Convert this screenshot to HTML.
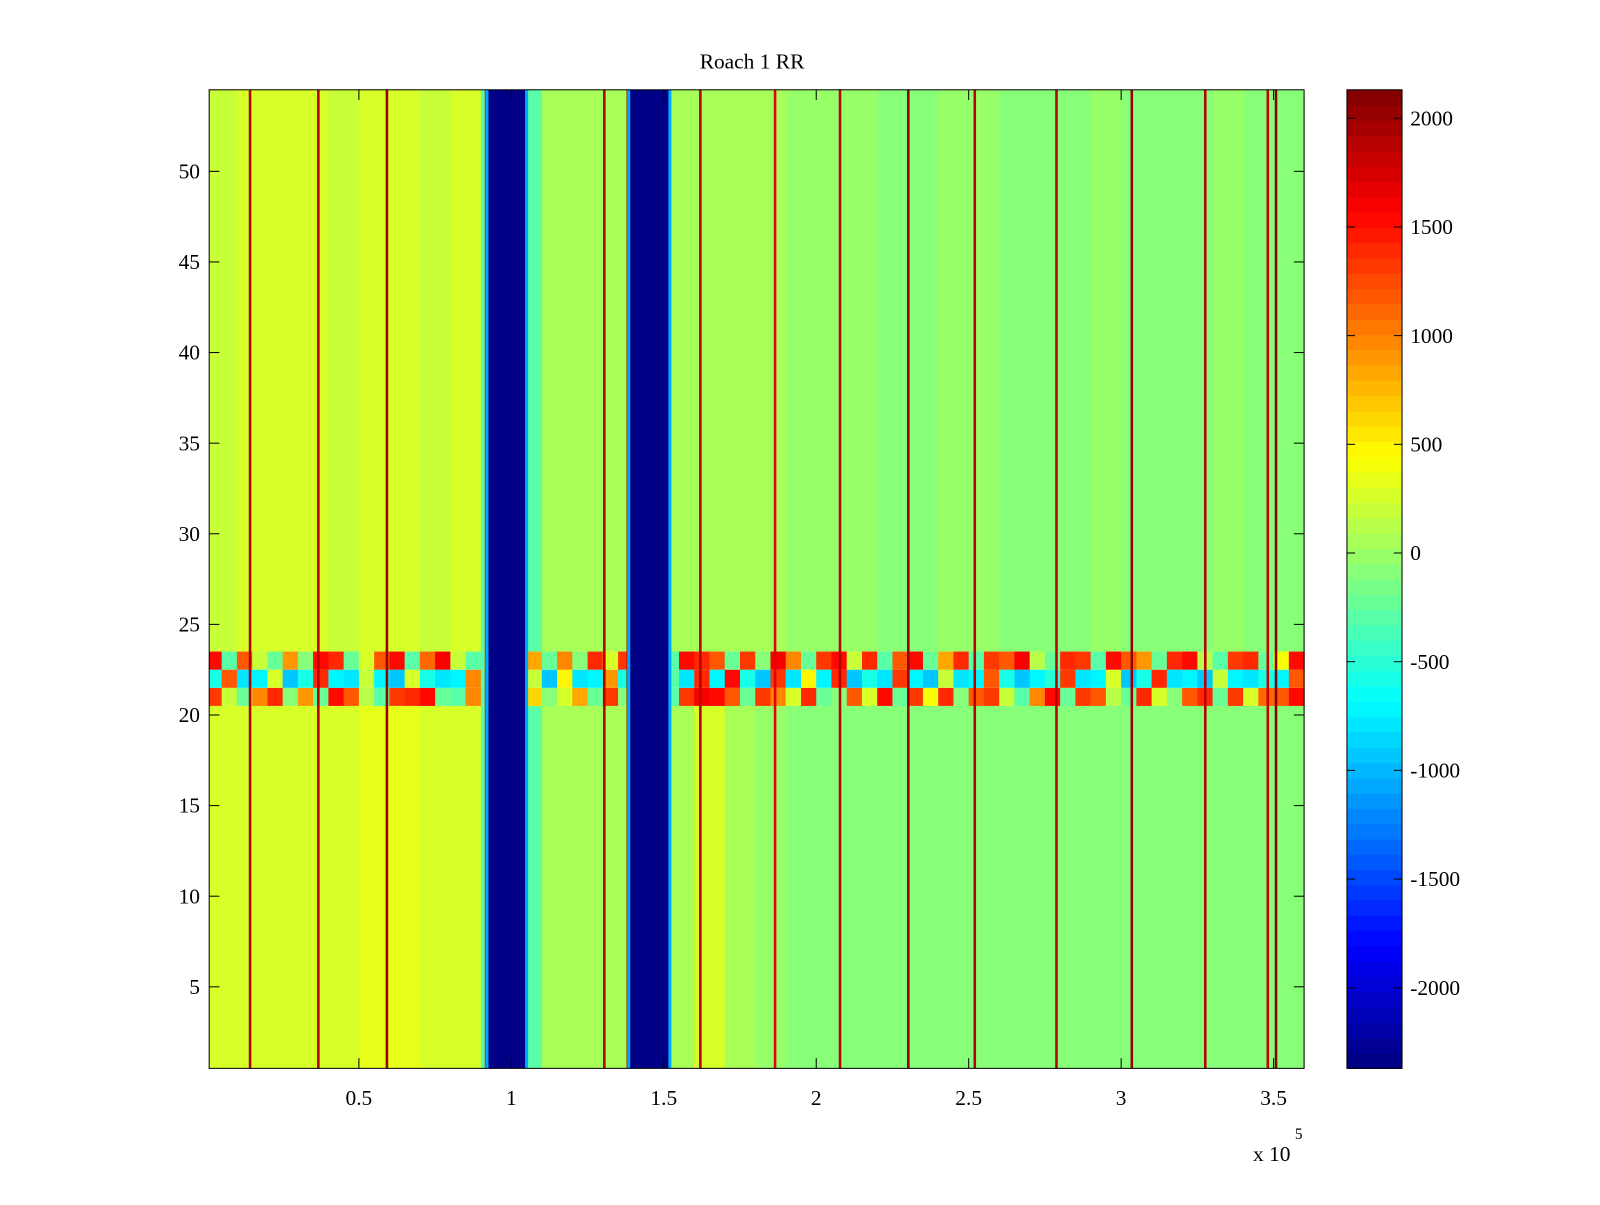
<!DOCTYPE html>
<html><head><meta charset="utf-8"><style>
html,body{margin:0;padding:0;background:#fff;}
svg text{font-family:"Liberation Serif",serif;font-size:21px;fill:#000;}
</style></head><body>
<svg id="chart" width="1600" height="1200" xmlns="http://www.w3.org/2000/svg">
<rect width="1600" height="1200" fill="#fff"/>
<g transform="scale(1.0204)">
<text x="737" y="67" text-anchor="middle">Roach 1 RR</text>
<g id="plot"></g>
<g id="cbar"></g>
<text x="1228" y="1138">x 10</text>
<text x="1269" y="1116" style="font-size:15px">5</text>
</g>
</svg>
<script>
// data (x in units of 1e5)
const xTicks=[0.5,1,1.5,2,2.5,3,3.5];
const xTickLabels=["0.5","1","1.5","2","2.5","3","3.5"];
const yTicks=[5,10,15,20,25,30,35,40,45,50];
const cTicks=[2000,1500,1000,500,0,-500,-1000,-1500,-2000];
// background mean per 0.1e5 bin (36 bins), rows 24-54 and rows 1-20
const bgUpper=[200,250,250,250,220,250,250,230,250,-300,-300,50,60,50,40,30,80,60,50,0,-30,-40,-80,-60,-40,-30,-60,-80,-50,-40,-70,-60,-50,-40,-50,-60];
const bgLower=[250,300,300,280,300,320,330,300,300,-300,-300,60,60,40,20,30,300,50,-20,-60,-80,-70,-100,-80,-70,-90,-100,-80,-60,-80,-100,-70,-60,-60,-80,-60];
// band rows 21-23, per 0.05e5 bin (72 bins)
const row23=[1500,-300,1200,200,-200,900,-100,1500,1400,-200,300,1200,1500,-300,1100,1600,200,-300,-300,-300,-300,800,-200,1000,-100,1400,300,1300,-300,-300,-300,1500,1400,1200,-200,1300,-100,1600,1000,-200,1300,1500,200,1400,-300,1200,1500,-200,800,1400,-300,1300,1200,1600,100,-200,1400,1300,-300,1500,1200,900,-200,1400,1500,100,-300,1300,1400,-200,400,1500];
const row22=[-600,1200,-800,-700,300,-900,-600,1400,-700,-800,200,-700,-900,300,-600,-800,-700,1000,-300,-300,-700,200,-900,500,-800,-700,900,-600,-300,-300,-300,-800,1400,-700,1500,-600,-900,1300,-800,500,-700,1400,-900,-600,-800,1300,-700,-900,200,-800,-700,1200,-600,-900,-700,-500,1300,-800,-700,300,-900,-600,1400,-800,-700,-900,200,-700,-800,-600,-700,1200];
const row21=[1300,200,-200,1000,1400,-100,900,-200,1500,1200,100,-300,1300,1400,1500,-200,-300,1000,-300,-300,-200,600,-100,300,800,-200,1300,-100,-300,-300,-300,1300,1600,1500,1200,-200,1300,1000,300,1400,-200,-100,1200,300,1500,-200,1300,400,1400,-100,1200,1300,200,-300,1000,1500,-200,1300,1200,100,-200,1400,300,-100,1200,1400,-200,1300,300,1100,1200,1500];
const blueBands=[[0.925,1.045],[1.39,1.515]];
const redLines=[0.143,0.367,0.592,0.917,1.305,1.382,1.62,1.865,2.078,2.302,2.52,2.788,3.035,3.276,3.481,3.508];
const redVals=[1900,1900,2000,1700,1900,2000,1900,1700,1900,2000,1900,1900,2000,1900,1800,2100];

const NS="http://www.w3.org/2000/svg";
const X0=205,X1=1278,Y0=88,Y1=1047,XMIN=0.009,XMAX=3.6,YMIN=0.5,YMAX=54.5;
const CMIN=-2371,CMAX=2131;
const sx=v=>X0+(v-XMIN)/(XMAX-XMIN)*(X1-X0);
const sy=v=>Y1-(v-YMIN)/(YMAX-YMIN)*(Y1-Y0);
function jet(v){let t=(v-CMIN)/(CMAX-CMIN);t=Math.max(0,Math.min(1,t));t=(Math.floor(t*63.999)+0.5)/64;
const c=x=>Math.round(255*Math.max(0,Math.min(1,x)));
return `rgb(${c(1.5-Math.abs(4*t-3))},${c(1.5-Math.abs(4*t-2))},${c(1.5-Math.abs(4*t-1))})`;}
function mk(tag,attrs,parent){const e=document.createElementNS(NS,tag);for(const k in attrs)e.setAttribute(k,attrs[k]);parent.appendChild(e);return e;}
const plot=document.getElementById('plot');
function drawRows(arr,step,yA,yB,name){arr.forEach((v,i)=>{const xa=Math.max(XMIN,i*step),xb=Math.min(XMAX,(i+1)*step);
const r=mk('rect',{x:sx(xa),y:sy(yB),width:sx(xb)-sx(xa)+0.6,height:sy(yA)-sy(yB),fill:jet(v)},plot);

});}
drawRows(bgUpper,0.1,23.5,54.5,'heat-cell-upper');
drawRows(bgLower,0.1,0.5,20.5,'heat-cell-lower');
drawRows(row21,0.05,20.5,21.5,'heat-cell-row21');
drawRows(row22,0.05,21.5,22.5,'heat-cell-row22');
drawRows(row23,0.05,22.5,23.5,'heat-cell-row23');
redLines.forEach((x,i)=>{const r=mk('rect',{x:sx(x)-1.25,y:Y0,width:2.5,height:Y1-Y0,fill:jet(redVals[i])},plot);

});
blueBands.forEach(b=>{const e1=mk('rect',{x:sx(b[0])-3,y:Y0,width:sx(b[1])-sx(b[0])+6,height:Y1-Y0,fill:jet(-1100)},plot);


const r=mk('rect',{x:sx(b[0]),y:Y0,width:sx(b[1])-sx(b[0]),height:Y1-Y0,fill:jet(CMIN)},plot);

});
const fr=mk('rect',{x:X0,y:Y0,width:X1-X0,height:Y1-Y0,fill:'none',stroke:'#000','stroke-width':1},plot);


xTicks.forEach((v,i)=>{const x=sx(v);
mk('line',{x1:x,x2:x,y1:Y1,y2:Y1-10,stroke:'#000'},plot);mk('line',{x1:x,x2:x,y1:Y0,y2:Y0+10,stroke:'#000'},plot);
const t=mk('text',{x:x,y:Y1+36,'text-anchor':'middle'},plot);t.textContent=xTickLabels[i];

});
yTicks.forEach(v=>{const y=sy(v);
mk('line',{x1:X0,x2:X0+10,y1:y,y2:y,stroke:'#000'},plot);mk('line',{x1:X1,x2:X1-10,y1:y,y2:y,stroke:'#000'},plot);
const t=mk('text',{x:X0-9,y:y+7,'text-anchor':'end'},plot);t.textContent=v;

});
const cb=document.getElementById('cbar');const CX0=1320,CX1=1374;
const cy=v=>Y1-(v-CMIN)/(CMAX-CMIN)*(Y1-Y0);
for(let i=0;i<64;i++){const va=CMIN+i*(CMAX-CMIN)/64,vb=CMIN+(i+1)*(CMAX-CMIN)/64;
const r=mk('rect',{x:CX0,y:cy(vb),width:CX1-CX0,height:cy(va)-cy(vb)+0.5,fill:jet((va+vb)/2)},cb);

}
mk('rect',{x:CX0,y:Y0,width:CX1-CX0,height:Y1-Y0,fill:'none',stroke:'#000'},cb);
cTicks.forEach(v=>{const y=cy(v);
mk('line',{x1:CX0,x2:CX0+8,y1:y,y2:y,stroke:'#000'},cb);mk('line',{x1:CX1,x2:CX1-8,y1:y,y2:y,stroke:'#000'},cb);
const t=mk('text',{x:CX1+8,y:y+7},cb);t.textContent=v;

});
</script>
</body></html>
